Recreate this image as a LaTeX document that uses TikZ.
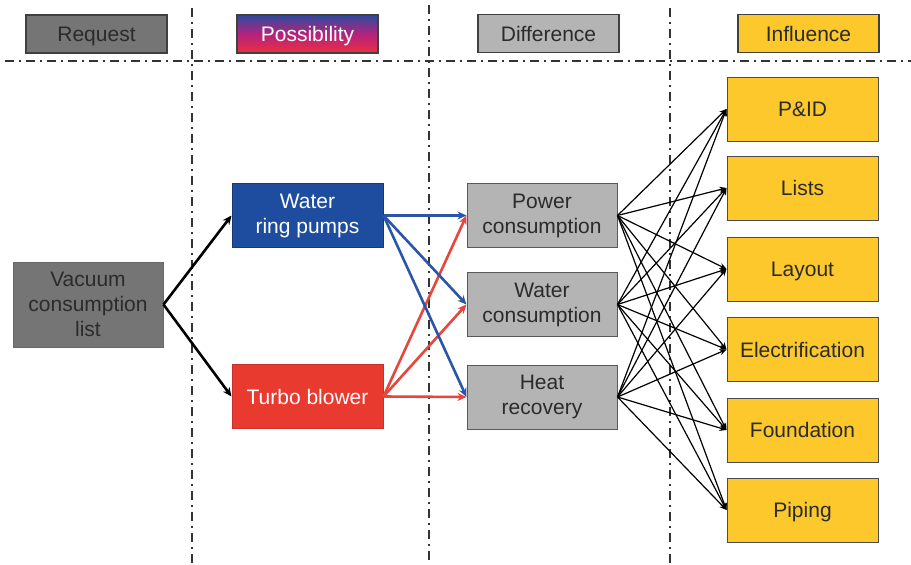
\documentclass[tikz,border=0pt]{standalone}
\usepackage{fontspec}
\setmainfont{Liberation Sans}
\usetikzlibrary{arrows.meta}
\definecolor{darkgrey}{HTML}{757575}
\definecolor{lightgrey}{HTML}{B4B4B4}
\definecolor{boxyellow}{HTML}{FCC82C}
\definecolor{pumpblue}{HTML}{1E4D9F}
\definecolor{blowerred}{HTML}{E93A30}
\definecolor{arrowblue}{HTML}{2A55A8}
\definecolor{arrowred}{HTML}{E8453C}
\definecolor{textdark}{HTML}{2B2B2B}
\definecolor{gradblue}{HTML}{2F4A9F}
\definecolor{gradmid}{HTML}{B3237E}
\definecolor{gradred}{HTML}{EC2E40}
\begin{document}
\begin{tikzpicture}[x=1pt,y=-1pt,
  txt/.style={font=\fontsize{21}{25}\selectfont, inner sep=0pt},
  multi/.style={txt, align=center},
  single/.style={txt, text height=15pt, text depth=0pt},
  frame/.style={draw, line width=1pt, minimum width=151pt, minimum height=64pt},
  box/.style={multi, frame},
  sbox/.style={single, frame},
  head/.style={single, draw=black!75, line width=1.2pt, minimum width=141pt, minimum height=38pt},
  divider/.style={draw=black!80, line width=2pt, dash pattern=on 9pt off 5pt on 2pt off 5pt},
  thick arrow/.style={line width=2.6pt, -{Stealth[length=9pt,width=8pt]}},
  thin arrow/.style={line width=1.2pt, -{Stealth[length=7pt,width=6pt]}}
]
\useasboundingbox (0,0) rectangle (911,565);

% column and header dividers
\draw[divider] (5,61) -- (911,61);
\draw[divider] (192,8) -- (192,565);
\draw[divider] (429,5) -- (429,565);
\draw[divider] (670,8) -- (670,565);

% column headers
\node[head, fill=darkgrey, text=textdark] (hreq) at (96.5,34) {Request};
\node[head, top color=gradblue, bottom color=gradred, middle color=gradmid, text=white] (hpos) at (307.5,34) {Possibility};
\node[head, fill=lightgrey, text=textdark] (hdif) at (548.5,33.5) {Difference};
\node[head, fill=boxyellow, text=textdark] (hinf) at (808.5,33.5) {Influence};

% request
\node[box, draw=darkgrey!90!black, fill=darkgrey, text=textdark, minimum width=150pt, minimum height=85pt] (vac) at (88,304.5) {Vacuum\\consumption\\list};

% possibilities
\node[box, draw=pumpblue!75!black, fill=pumpblue, text=white] (wrp) at (307.5,215.5) {Water\\ring pumps};
\node[sbox, draw=blowerred!85!black, fill=blowerred, text=white] (tb) at (307.5,396.5) {Turbo blower};

% differences
\node[box, draw=black!65, fill=lightgrey, text=textdark, minimum width=150pt] (pow) at (542,215.5) {Power\\consumption};
\node[box, draw=black!65, fill=lightgrey, text=textdark, minimum width=150pt] (wat) at (542,304.5) {Water\\consumption};
\node[box, draw=black!65, fill=lightgrey, text=textdark, minimum width=150pt] (heat) at (542,397) {Heat\\recovery};

% influences
\foreach \n/\t/\y in {pid/P\&ID/109, lists/Lists/188, layout/Layout/269, elec/Electrification/349.5, found/Foundation/430, pipe/Piping/510}
  \node[sbox, draw=black!70, fill=boxyellow, text=textdark] (\n) at (802.5,\y) {\t};

% request to possibilities
\draw[thick arrow, black] (vac.east) -- (wrp.west);
\draw[thick arrow, black] (vac.east) -- (tb.west);

% possibilities to differences
\foreach \d in {pow,wat,heat} {
  \draw[thick arrow, arrowred] (tb.east) -- (\d.west);
}
\foreach \d in {pow,wat,heat} {
  \draw[thick arrow, arrowblue] (wrp.east) -- (\d.west);
}

% differences to influences
\foreach \d in {pow,wat,heat}
  \foreach \i in {pid,lists,layout,elec,found,pipe}
    \draw[thin arrow, black] (\d.east) -- (\i.west);
\end{tikzpicture}
\end{document}
